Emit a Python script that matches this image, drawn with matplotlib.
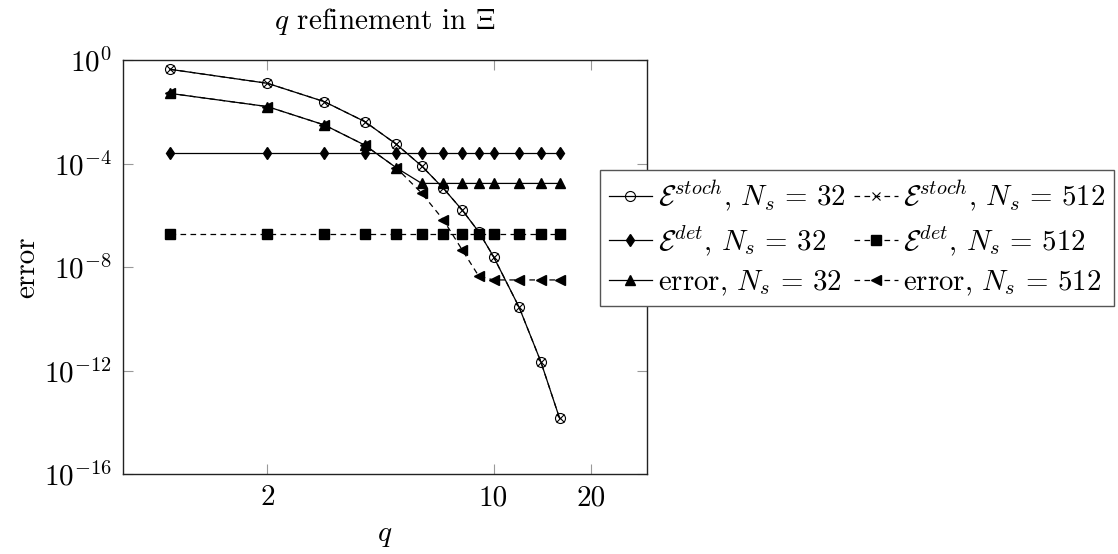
import matplotlib
matplotlib.use("Agg")
import matplotlib.pyplot as plt
from matplotlib.ticker import FixedLocator, FixedFormatter, NullLocator

plt.rcParams['font.family'] = 'serif'
plt.rcParams['font.serif'] = ['cmr10']
plt.rcParams['mathtext.fontset'] = 'cm'
plt.rcParams['axes.unicode_minus'] = False
plt.rcParams['axes.formatter.use_mathtext'] = True

# ---- data ----
q = [1, 2, 3, 4, 5, 6, 7, 8, 9, 10, 12, 14, 16]
stoch_32 = [10**-0.36, 10**-0.90, 10**-1.61, 10**-2.38, 10**-3.25, 10**-4.10, 10**-4.96,
            10**-5.80, 10**-6.64, 10**-7.60, 10**-9.56, 10**-11.66, 10**-13.85]
stoch_512 = list(stoch_32)
det_32 = [10**-3.61] * 13
det_512 = [10**-6.72] * 13
err_32 = [10**-1.29, 10**-1.80, 10**-2.51, 10**-3.29, 10**-4.16, 10**-4.77, 10**-4.77,
          10**-4.77, 10**-4.77, 10**-4.77, 10**-4.77, 10**-4.77, 10**-4.77]
err_512 = [10**-1.29, 10**-1.80, 10**-2.51, 10**-3.29, 10**-4.16, 10**-5.15, 10**-6.18,
           10**-7.34, 10**-8.35, 10**-8.50, 10**-8.50, 10**-8.50, 10**-8.50]

xticks = [2, 10, 20]
xtick_labels = ['2', '10', '20']
yticks = [1e-16, 1e-12, 1e-8, 1e-4, 1e0]
ytick_labels = ['$10^{-16}$', '$10^{-12}$', '$10^{-8}$', '$10^{-4}$', '$10^{0}$']

labels = [r'$\mathcal{E}^{stoch}$, $N_s\,=\,32$', r'$\mathcal{E}^{stoch}$, $N_s\,=\,512$',
          r'$\mathcal{E}^{det}$, $N_s\,=\,32$', r'$\mathcal{E}^{det}$, $N_s\,=\,512$',
          r'error, $N_s\,=\,32$', r'error, $N_s\,=\,512$']

W, H = 1118, 554
fig = plt.figure(figsize=(W / 100, H / 100), dpi=100)
ax = fig.add_axes([123 / W, 1 - 474 / H, (647 - 123) / W, (474 - 60) / H])

lw = 0.9
dash = (0, (4.5, 3.5))
h1, = ax.plot(q, stoch_32, color='black', lw=lw, marker='o', ms=7.2, mfc='none', mew=0.8)
h2, = ax.plot(q, stoch_512, color='black', lw=lw, ls=dash, marker='x', ms=5.8, mew=0.8)
h3, = ax.plot(q, det_32, color='black', lw=lw, marker='d', ms=6.1)
h4, = ax.plot(q, det_512, color='black', lw=lw, ls=dash, marker='s', ms=7.5)
h5, = ax.plot(q, err_32, color='black', lw=lw, marker='^', ms=7)
h6, = ax.plot(q, err_512, color='black', lw=lw, ls=dash, marker='<', ms=7)

ax.set_xscale('log')
ax.set_yscale('log')
ax.set_xlim(0.716, 29.8)
ax.set_ylim(1e-16, 1e0)

fs = 21
ax.xaxis.set_major_locator(FixedLocator(xticks))
ax.xaxis.set_major_formatter(FixedFormatter(xtick_labels))
ax.yaxis.set_major_locator(FixedLocator(yticks))
ax.yaxis.set_major_formatter(FixedFormatter(ytick_labels))
ax.xaxis.set_minor_locator(NullLocator())
ax.yaxis.set_minor_locator(NullLocator())
ax.tick_params(which='major', direction='in', top=True, right=True, length=7.5,
               width=0.8, color='#999999', labelsize=fs, pad=8)
for s in ax.spines.values():
    s.set_linewidth(1.0)
    s.set_color('#222222')

ax.set_title(r'$q$ refinement in $\Xi$', fontsize=fs, pad=22)
ax.set_xlabel(r'$q$', fontsize=fs, labelpad=8)
ax.set_ylabel('error', fontsize=fs, labelpad=3)

# matplotlib fills legend columns first; order so rows read as in the reference
handles = [h1, h3, h5, h2, h4, h6]
leg_labels = [labels[0], labels[2], labels[4], labels[1], labels[3], labels[5]]
leg = fig.legend(handles, leg_labels, ncol=2, loc='upper left',
                 bbox_to_anchor=(600 / W, 1 - 170 / H), borderaxespad=0,
                 fontsize=20.8, numpoints=1, handlelength=1.5, handletextpad=0.2,
                 columnspacing=0.3, borderpad=0.3, labelspacing=0.35,
                 fancybox=False, framealpha=1, edgecolor='#555555')
leg.get_frame().set_linewidth(1.0)

fig.savefig('out.png', dpi=100)
